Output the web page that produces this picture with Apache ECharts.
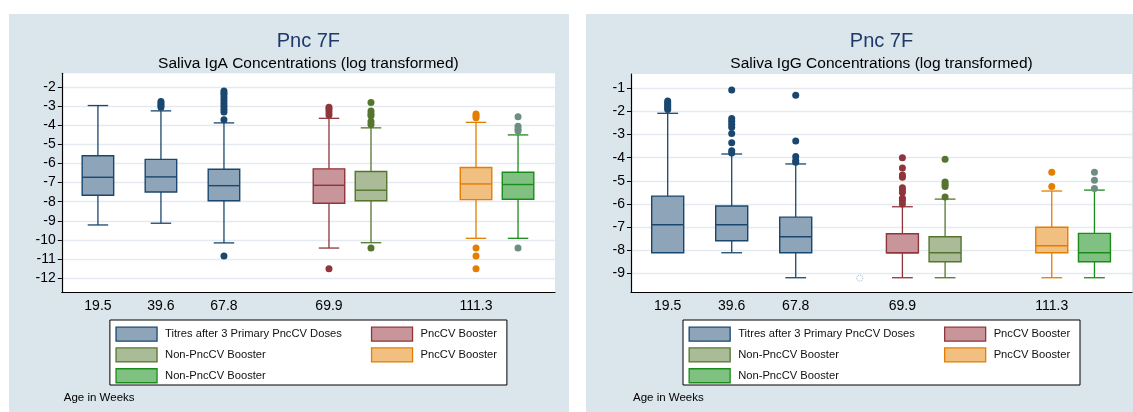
<!DOCTYPE html>
<html>
<head>
<meta charset="utf-8">
<script src="https://cdn.jsdelivr.net/npm/echarts@6/dist/echarts.min.js"></script>
<style>
  html, body { margin: 0; padding: 0; background: #ffffff; width: 1133px; height: 412px; overflow: hidden; }
  .panel { position: absolute; top: 14px; width: 560px; height: 398px; background: #dae5ec; }
</style>
</head>
<body>
<div id="iga" class="panel" style="left:9px"></div>
<div id="igg" class="panel" style="left:586px"></div>
<script>
// Age in weeks at each sampling visit (x-axis tick labels)
const ageLabels = ['19.5', '39.6', '67.8', '69.9', '111.3'];

// Box order: primary series at 19.5 / 39.6 / 67.8 wk, then booster arms at 69.9 and 111.3 wk
// Each box: [lower adjacent, Q1, median, Q3, upper adjacent], log-transformed concentration
const igaBoxes = [
  [-9.22, -7.66, -6.72, -5.59, -2.96],
  [-9.13, -7.49, -6.70, -5.78, -3.24],
  [-10.16, -7.95, -7.16, -6.30, -3.87],
  [-10.43, -8.08, -7.14, -6.28, -3.63],
  [-10.15, -7.95, -7.40, -6.42, -4.13],
  [-9.92, -7.89, -7.07, -6.21, -3.84],
  [-9.92, -7.87, -7.10, -6.46, -4.50]
];
const igaOutliers = [
  [],
  [-2.75, -2.85, -2.95, -3.05],
  [-2.2, -2.3, -2.4, -2.55, -2.7, -2.85, -3.0, -3.15, -3.3, -3.7, -10.85],
  [-3.05, -3.15, -3.3, -3.45, -11.51],
  [-2.8, -3.25, -3.4, -3.5, -3.8, -3.95, -10.43],
  [-3.4, -3.5, -3.6, -10.43, -10.85, -11.51],
  [-3.55, -4.05, -4.2, -4.3, -10.43]
];

const iggBoxes = [
  [-8.11, -8.11, -6.90, -5.66, -2.08],
  [-8.11, -7.59, -6.90, -6.09, -3.84],
  [-9.19, -8.11, -7.42, -6.57, -4.27],
  [-9.19, -8.11, -8.11, -7.29, -6.12],
  [-9.19, -8.50, -8.11, -7.42, -5.79],
  [-9.19, -8.11, -7.81, -7.01, -5.44],
  [-9.19, -8.50, -8.11, -7.27, -5.40]
];
const iggOutliers = [
  [-1.55, -1.62, -1.7, -1.78, -1.85, -1.92],
  [-1.07, -2.3, -2.42, -2.55, -2.68, -2.95, -3.35, -3.7, -3.8],
  [-1.3, -3.28, -3.95, -4.12, -4.2],
  [-4.0, -4.45, -4.75, -4.85, -5.3, -5.4, -5.5, -5.75, -5.85, -6.0],
  [-4.07, -5.05, -5.15, -5.25, -5.7],
  [-4.63, -5.25],
  [-4.63, -4.97, -5.33]
];
// Value at the assay's lower limit with no box of its own (IgG panel)
const iggLimitMarks = [-9.21];

const igaTicks = [-2, -3, -4, -5, -6, -7, -8, -9, -10, -11, -12];
const iggTicks = [-1, -2, -3, -4, -5, -6, -7, -8, -9];

// ---- layout (positions along the x axis, in box-spacing units) ----
const BOX_SLOT = [0, 3, 6, 11, 13, 18, 20];
const LABEL_SLOT = [0, 3, 6, 11, 18];
const LIMIT_SLOT = 9;
const X_MIN = -1.72, X_MAX = 21.76;
const BOX_WIDTH = 1.5;
const CAP_RATIO = 0.65;

const FONT = '"Liberation Sans", Arial, Helvetica, sans-serif';

// Series styling; the two booster arms repeat their names, so a trailing space keeps them distinct
const groups = [
  { name: 'Titres after 3 Primary PncCV Doses', boxes: [0, 1, 2], fill: '#8ea4b9', line: '#1a476f', dot: '#1a476f' },
  { name: 'PncCV Booster',       boxes: [3], fill: '#c8969a', line: '#90353b', dot: '#90353b' },
  { name: 'Non-PncCV Booster',   boxes: [4], fill: '#aabb97', line: '#55752f', dot: '#55752f' },
  { name: 'PncCV Booster ',      boxes: [5], fill: '#f1bf80', line: '#e37e00', dot: '#e37e00' },
  { name: 'Non-PncCV Booster ',  boxes: [6], fill: '#80c080', line: '#1a8c1a', dot: '#6e8e84' }
];
const legendCols = [[0, 2, 4], [1, 3]];

function boxRenderer(g) {
  return function (params, api) {
    const x = api.value(0);
    const lo = api.coord([x, api.value(1)]);
    const q1 = api.coord([x, api.value(2)]);
    const md = api.coord([x, api.value(3)]);
    const q3 = api.coord([x, api.value(4)]);
    const hi = api.coord([x, api.value(5)]);
    const cx = q1[0];
    const half = api.size([BOX_WIDTH, 0])[0] / 2;
    const cap = half * CAP_RATIO;
    const lw = { stroke: g.line, lineWidth: 1.3 };
    const kids = [];
    if (hi[1] < q3[1] - 0.5) {
      kids.push({ type: 'line', shape: { x1: cx, y1: q3[1], x2: cx, y2: hi[1] }, style: lw });
      kids.push({ type: 'line', shape: { x1: cx - cap, y1: hi[1], x2: cx + cap, y2: hi[1] }, style: lw });
    }
    if (lo[1] > q1[1] + 0.5) {
      kids.push({ type: 'line', shape: { x1: cx, y1: q1[1], x2: cx, y2: lo[1] }, style: lw });
      kids.push({ type: 'line', shape: { x1: cx - cap, y1: lo[1], x2: cx + cap, y2: lo[1] }, style: lw });
    }
    kids.push({ type: 'rect', shape: { x: cx - half, y: q3[1], width: half * 2, height: q1[1] - q3[1] },
                style: { fill: g.fill, stroke: g.line, lineWidth: 1.4 } });
    kids.push({ type: 'line', shape: { x1: cx - half, y1: md[1], x2: cx + half, y2: md[1] },
                style: { stroke: g.line, lineWidth: 1.4 } });
    return { type: 'group', children: kids };
  };
}

function buildPanel(el, cfg) {
  const W = 560;
  const plotL = cfg.gridLeft, plotR = W - 14;
  const cx = (plotL + plotR) / 2;
  const legendLeft = cx - 198.5;

  const series = [];
  groups.forEach(function (g) {
    series.push({
      type: 'custom', name: g.name, z: 3,
      itemStyle: { color: g.fill, borderColor: g.line },
      renderItem: boxRenderer(g),
      encode: { x: 0, y: [1, 2, 3, 4, 5] },
      data: g.boxes.map(function (i) { return [BOX_SLOT[i]].concat(cfg.boxes[i]); })
    });
    const pts = [];
    g.boxes.forEach(function (i) {
      cfg.outliers[i].forEach(function (v) { pts.push([BOX_SLOT[i], v]); });
    });
    series.push({
      type: 'scatter', name: g.name + ' outside values', z: 4, silent: true,
      symbol: 'circle', symbolSize: 7,
      itemStyle: { color: g.dot, opacity: 1 },
      data: pts
    });
  });
  if (cfg.limitMarks) {
    series.push({
      type: 'scatter', name: 'limit', z: 4, silent: true,
      symbol: 'circle', symbolSize: 6,
      itemStyle: { color: 'rgba(0,0,0,0)', borderColor: '#7f9bb8', borderWidth: 1, borderType: 'dotted' },
      data: cfg.limitMarks.map(function (v) { return [LIMIT_SLOT, v]; })
    });
  }

  const legends = legendCols.map(function (col, ci) {
    return {
      orient: 'vertical', selectedMode: false, padding: 0,
      left: legendLeft + (ci === 0 ? 5.5 : 261), top: 312.5,
      itemWidth: 41, itemHeight: 14, itemGap: 5.5, icon: 'rect',
      formatter: function (n) { return n.trim(); },
      textStyle: { fontFamily: FONT, fontSize: 11.2, color: '#111', lineHeight: 14, padding: [0, 0, 0, 3] },
      data: col.map(function (gi) {
        const g = groups[gi];
        return { name: g.name, itemStyle: { color: g.fill, borderColor: g.line, borderWidth: 1.3 } };
      })
    };
  });

  const chart = echarts.init(el, null, { renderer: 'canvas' });
  chart.setOption({
    animation: false,
    backgroundColor: 'transparent',
    grid: { left: plotL, right: W - plotR, top: cfg.gridTop, bottom: 119.7,
            show: true, backgroundColor: '#ffffff', borderWidth: 0 },
    xAxis: {
      type: 'value', min: X_MIN, max: X_MAX,
      axisLine: { show: true, onZero: false, lineStyle: { color: '#000', width: 1.2 } },
      axisTick: { show: false },
      splitLine: { show: false },
      axisLabel: {
        customValues: LABEL_SLOT, margin: 7, fontFamily: FONT, fontSize: 14, color: '#000',
        formatter: function (v) { return ageLabels[LABEL_SLOT.indexOf(Math.round(v))] || ''; }
      }
    },
    yAxis: {
      type: 'value', min: cfg.yMin, max: cfg.yMax,
      axisLine: { show: true, onZero: false, lineStyle: { color: '#000', width: 1.2 } },
      axisTick: { show: true, length: 4, customValues: cfg.ticks, lineStyle: { color: '#000', width: 1 } },
      axisLabel: { customValues: cfg.ticks, margin: 6, fontFamily: FONT, fontSize: 14, color: '#000' },
      splitLine: { show: true, lineStyle: { color: '#e4eaef', width: 1.4 } }
    },
    legend: legends,
    graphic: [
      { type: 'text', x: cx, y: 27.7, z: 10,
        style: { text: 'Pnc 7F', fontFamily: FONT, fontSize: 20, fill: '#1e3a6a', align: 'center', verticalAlign: 'middle' } },
      { type: 'text', x: cx, y: 49.5, z: 10,
        style: { text: cfg.subtitle, fontFamily: FONT, fontSize: 15.5, fill: '#000', align: 'center', verticalAlign: 'middle' } },
      { type: 'rect', x: legendLeft, y: 306, z: 0,
        shape: { width: 397, height: 65 }, style: { fill: '#ffffff', stroke: '#000', lineWidth: 1 } },
      { type: 'text', x: plotL + 2, y: 384.3, z: 10,
        style: { text: 'Age in Weeks', fontFamily: FONT, fontSize: 11.5, fill: '#000', verticalAlign: 'middle' } }
    ],
    series: series
  });
}

buildPanel(document.getElementById('iga'), {
  subtitle: 'Saliva IgA Concentrations (log transformed)',
  boxes: igaBoxes, outliers: igaOutliers, ticks: igaTicks,
  yMin: -12.75, yMax: -1.27, gridLeft: 52.8, gridTop: 59.3
});
buildPanel(document.getElementById('igg'), {
  subtitle: 'Saliva IgG Concentrations (log transformed)',
  boxes: iggBoxes, outliers: iggOutliers, ticks: iggTicks, limitMarks: iggLimitMarks,
  yMin: -9.82, yMax: -0.38, gridLeft: 45, gridTop: 60
});
</script>
</body>
</html>
